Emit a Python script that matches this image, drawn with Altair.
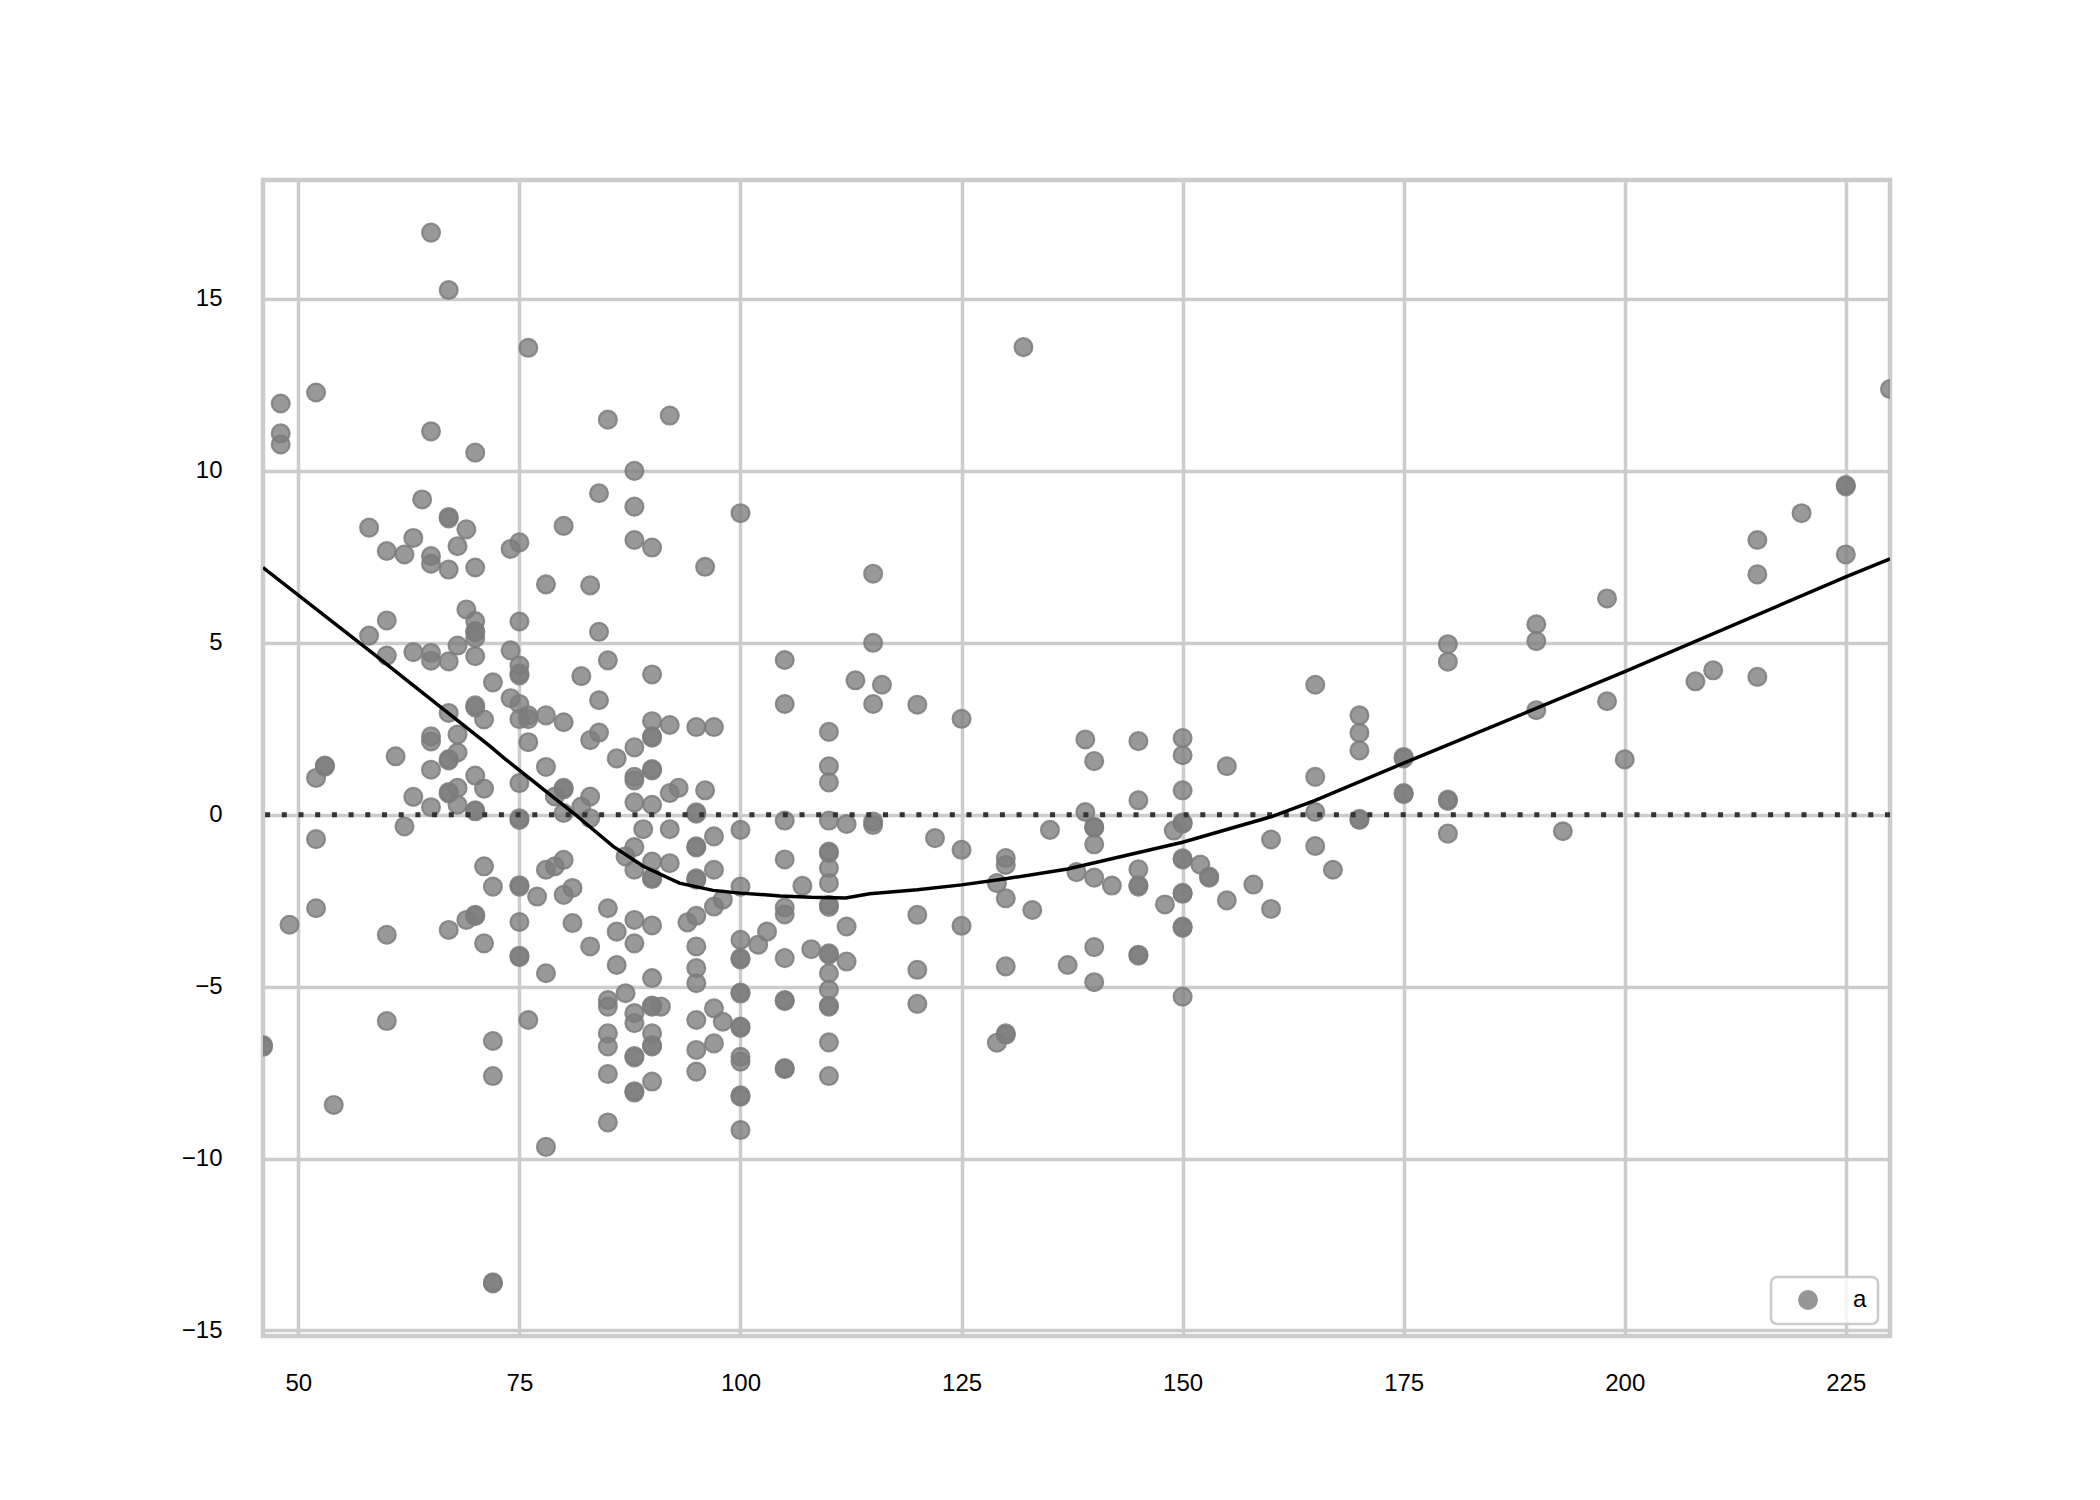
import altair as alt
import pandas as pd

# residual points (horsepower, residual)
hp = [
    65, 67, 52, 48, 48, 48, 65, 70, 64, 67, 67, 58, 69, 63, 68, 60, 62, 65, 65, 67, 70,
    60, 58, 60, 63, 65, 65, 67, 68, 69, 70, 70, 70, 70, 70, 72, 67, 70, 70, 71, 65, 65, 68,
    67, 67, 68, 61, 53, 53, 52, 65, 70, 71, 63, 65, 67, 67, 68, 68, 70, 70, 62, 52, 71, 72,
    52, 49, 60, 67, 69, 70, 70, 71,
    46, 46, 60, 72, 72, 54, 76, 78, 72, 72,
    76, 85, 92, 88, 84, 88, 100, 80, 75, 74, 88, 90, 96, 78, 83, 75, 84, 74, 75, 75, 75, 85,
    82, 90, 74, 75, 76, 75, 76, 78, 80, 84, 84, 83, 90, 90, 90, 92, 95, 97, 88, 86, 76, 78,
    90, 90, 88, 88, 105, 105,
    75, 80, 80, 79, 80, 75, 75, 82, 83, 83, 88, 90, 92, 93, 96, 95, 95, 89, 92, 100, 97, 95,
    95, 88, 87, 90, 92, 88, 90, 90, 95, 95, 97, 100, 75, 75, 77, 79, 80, 78, 80, 81, 85, 75,
    81, 88, 90, 86, 94, 95, 97, 98, 88, 83, 75, 75, 86, 78, 90, 95, 95, 95, 100, 100, 100,
    102, 103, 100, 100, 85, 85, 87, 88, 88, 90, 90, 91, 85, 85, 90, 90, 90, 88, 88, 95, 97,
    98, 97, 100, 100, 95, 100,
    85, 88, 88, 90, 85, 95, 100, 100, 100, 100, 105, 105,
    115, 115, 113, 116, 115, 120, 125, 110, 110, 110, 105, 110, 112, 115, 115, 122, 125, 135,
    105, 110, 110, 130, 132,
    110, 110, 107, 105, 105, 110, 110, 112, 120, 125, 130, 129, 130, 133, 108, 105, 110, 110,
    110, 110, 110, 110, 112, 120, 130, 137, 105, 105, 120, 110, 130, 130, 129, 110,
    139, 140, 145, 150, 150, 155, 150, 145, 165, 170, 170, 170, 175, 175, 165, 175, 175, 165,
    170, 170, 139, 140, 140, 140, 150, 150, 149, 160, 165, 167, 138, 140, 142, 145, 145, 145,
    150, 150, 152, 153, 153, 150, 150, 148, 155, 158, 160, 150, 150, 140, 145, 145, 140, 150,
    230, 225, 225, 220, 215, 215, 225, 198, 190, 190, 180, 180, 210, 208, 215, 198, 190, 200,
    180, 180, 180, 193,
]
resid = [
    16.93, 15.26, 12.28, 11.96, 11.09, 10.77, 11.15, 10.53, 9.17, 8.66, 8.62, 8.35, 8.30, 8.05,
    7.81, 7.67, 7.57, 7.52, 7.30, 7.13, 7.19,
    5.65, 5.21, 4.63, 4.73, 4.71, 4.48, 4.46, 4.92, 5.97, 5.63, 5.34, 5.30, 5.14, 4.61, 3.85,
    2.96, 3.18, 3.12, 2.77, 2.28, 2.13, 2.33, 1.62, 1.58, 1.81, 1.70, 1.43, 1.40, 1.07, 1.31,
    1.14, 0.76, 0.52, 0.22, 0.66, 0.62, 0.78, 0.29, 0.13, 0.10, -0.34, -0.71, -1.50, -2.09,
    -2.72, -3.20, -3.49, -3.35, -3.06, -2.91, -2.95, -3.74,
    -6.70, -6.75, -6.00, -6.58, -7.60, -8.44, -5.97, -9.66, -13.63, -13.60,
    13.58, 11.49, 11.61, 10.00, 9.35, 8.96, 8.77, 8.40, 7.92, 7.73, 7.99, 7.77, 7.21, 6.70,
    6.67, 5.62, 5.32, 4.78, 4.34, 4.11, 4.05, 4.49, 4.03, 4.08, 3.39, 3.22, 2.89, 2.78, 2.78,
    2.89, 2.69, 3.33, 2.39, 2.17, 2.72, 2.28, 2.24, 2.61, 2.55, 2.55, 1.96, 1.64, 2.11, 1.39,
    1.33, 1.29, 1.10, 1.00, 4.50, 3.22,
    0.92, 0.78, 0.74, 0.53, 0.05, -0.15, -0.10, 0.24, 0.53, -0.10, 0.36, 0.29, 0.63, 0.78,
    0.71, 0.07, 0.03, -0.42, -0.42, -0.44, -0.63, -0.92, -0.95, -0.94, -1.21, -1.36, -1.41,
    -1.60, -1.87, -1.83, -1.89, -1.85, -1.60, -2.09, -2.09, -2.05, -2.38, -1.50, -1.31, -1.60,
    -2.33, -2.13, -2.72, -3.12, -3.15, -3.06, -3.22, -3.40, -3.13, -2.94, -2.67, -2.47, -3.74,
    -3.83, -4.10, -4.14, -4.37, -4.61, -4.75, -3.83, -4.46, -4.90, -3.64, -4.17, -4.21, -3.78,
    -3.40, -5.17, -5.20, -5.39, -5.58, -5.19, -5.77, -6.06, -5.58, -5.55, -5.58, -6.36, -6.74,
    -6.36, -6.74, -6.70, -7.02, -7.06, -5.97, -5.63, -6.02, -6.65, -6.16, -6.20, -6.84, -7.04,
    -7.54, -8.08, -8.04, -7.76, -8.95, -7.47, -7.18, -8.20, -8.16, -9.17, -7.37, -7.40,
    7.01, 5.00, 3.91, 3.78, 3.22, 3.20, 2.79, 2.41, 1.41, 0.94, -0.17, -0.17, -0.27, -0.20,
    -0.30, -0.68, -1.02, -0.44, -1.30, -1.07, -1.12, -1.26, 13.60,
    -1.55, -1.99, -2.07, -2.70, -2.90, -2.62, -2.68, -3.25, -2.91, -3.23, -1.46, -1.99, -2.43,
    -2.77, -3.91, -4.17, -4.03, -4.07, -4.61, -5.09, -5.58, -5.55, -4.27, -4.51, -4.41, -4.37,
    -5.39, -5.42, -5.50, -6.62, -6.40, -6.36, -6.63, -7.60,
    2.19, 1.56, 2.14, 2.23, 1.73, 1.41, 0.71, 0.42, 3.78, 2.89, 2.38, 1.87, 1.68, 1.64, 1.10,
    0.63, 0.60, 0.08, -0.15, -0.12, 0.08, -0.38, -0.35, -0.86, -0.26, -0.23, -0.46, -0.72,
    -0.91, -1.60, -1.67, -1.83, -2.06, -1.59, -2.09, -2.05, -1.30, -1.27, -1.45, -1.83, -1.80,
    -2.30, -2.27, -2.61, -2.49, -2.03, -2.74, -3.29, -3.25, -3.85, -4.10, -4.07, -4.87, -5.29,
    12.38, 9.59, 9.55, 8.77, 7.99, 6.99, 7.57, 6.29, 5.54, 5.05, 4.96, 4.45, 4.20, 3.88, 4.01,
    3.30, 3.04, 1.61, 0.44, 0.40, -0.55, -0.48,
]

# lowess curve
lowess_x = [46, 58, 71.7, 73.4, 81.1, 85.6, 89, 93.1, 96.9, 100, 104.5, 108, 111.9, 114.6,
            120, 125, 129.8, 137, 150, 160, 165, 175, 200, 225, 230]
lowess_y = [7.19, 4.78, 1.99, 1.62, 0.05, -0.92, -1.5, -1.99, -2.2, -2.28, -2.36, -2.4, -2.42,
            -2.3, -2.18, -2.04, -1.87, -1.58, -0.80, -0.06, 0.42, 1.5, 4.16, 6.92, 7.44]

x_ticks = [50, 75, 100, 125, 150, 175, 200, 225]
y_ticks = [-15, -10, -5, 0, 5, 10, 15]

n = min(len(hp), len(resid))
pts = pd.DataFrame({"hp": hp[:n], "resid": resid[:n], "series": ["a"] * n})
curve = pd.DataFrame({"hp": lowess_x, "resid": lowess_y})
zero = pd.DataFrame({"resid": [0]})

FONT = "Liberation Sans"
PT = "#7c7c7c"

xs = alt.Scale(domain=[46, 230], nice=False, zero=False)
ys = alt.Scale(domain=[-15.16, 18.46], nice=False, zero=False)

x_axis = alt.Axis(values=x_ticks, title=None, ticks=False, tickSize=0, domain=False,
                  labelPadding=35, grid=True)
y_axis = alt.Axis(values=y_ticks, title=None, ticks=False, tickSize=0, domain=False,
                  labelPadding=41, grid=True)

points = alt.Chart(pts).mark_circle(
    size=320, fillOpacity=0.78, stroke=PT, strokeWidth=2.2, strokeOpacity=0.85, clip=True
).encode(
    x=alt.X("hp:Q", scale=xs, axis=x_axis),
    y=alt.Y("resid:Q", scale=ys, axis=y_axis),
    color=alt.Color("series:N", scale=alt.Scale(domain=["a"], range=[PT]),
                    legend=alt.Legend(title=None, orient="bottom-right", offset=12,
                                      padding=11, symbolOffset=14, labelOffset=33,
                                      symbolSize=320, symbolType="circle",
                                      symbolOpacity=0.8, symbolStrokeColor=PT,
                                      symbolStrokeWidth=2, fillColor="rgba(255,255,255,0.8)",
                                      strokeColor="#cccccc", cornerRadius=6,
                                      labelFont=FONT, labelFontSize=24, labelColor="black")),
)

rule = alt.Chart(zero).mark_rule(
    color="#333333", strokeWidth=5, strokeDash=[5, 11.7], strokeCap="butt"
).encode(y=alt.Y("resid:Q", scale=ys))

line = alt.Chart(curve).mark_line(color="black", strokeWidth=3.5, clip=True).encode(
    x=alt.X("hp:Q", scale=xs),
    y=alt.Y("resid:Q", scale=ys),
)

chart = alt.layer(points, rule, line).properties(
    width=1627, height=1156,
    padding={"left": 255, "top": 172, "right": 150, "bottom": 120},
    autosize=alt.AutoSizeParams(type="none"),
).configure_view(
    stroke="#cccccc", strokeWidth=4.5
).configure_axis(
    gridColor="#cccccc", gridWidth=3.5, labelFont=FONT, labelFontSize=24,
    labelColor="black"
).configure_legend(
    strokeWidth=2.5
)

chart.save("out.html", embed_options={"renderer": "svg", "actions": False})
